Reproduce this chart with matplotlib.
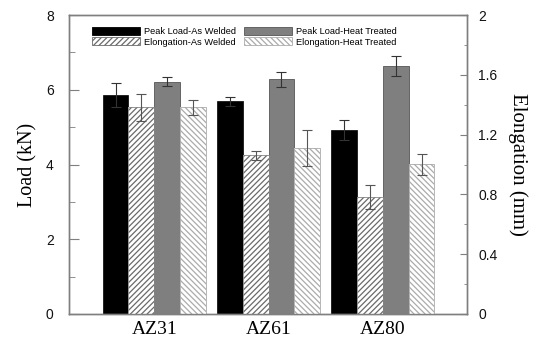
import matplotlib
matplotlib.use("Agg")
import matplotlib.pyplot as plt
from matplotlib.ticker import MultipleLocator
import numpy as np

plt.rcParams['hatch.linewidth'] = 0.9

alloys = ["AZ31", "AZ61", "AZ80"]
load_aw = [5.87, 5.70, 4.92]
load_aw_err = [0.32, 0.12, 0.27]
load_ht = [6.21, 6.28, 6.64]
load_ht_err = [0.12, 0.21, 0.27]
elong_aw = [1.383, 1.061, 0.780]
elong_aw_err = [0.09, 0.03, 0.08]
elong_ht = [1.383, 1.112, 1.001]
elong_ht_err = [0.05, 0.12, 0.07]
legend_labels = ["Peak Load-As Welded", "Elongation-As Welded",
                 "Peak Load-Heat Treated", "Elongation-Heat Treated"]

fig = plt.figure(figsize=(5.43, 3.42), dpi=100)
ax = fig.add_axes([0.127, 0.0819, 0.733, 0.874])
ax2 = ax.twinx()

x = np.arange(len(alloys))
w = 0.226
spine_c = "#7f7f7f"
err_kw = dict(ecolor="#333333", capsize=3.5, elinewidth=0.8, capthick=0.8)
err_kw2 = dict(ecolor="#555555", capsize=3.5, elinewidth=0.8, capthick=0.8)

b1 = ax.bar(x - 1.5 * w, load_aw, w, yerr=load_aw_err, color="black",
            edgecolor="black", linewidth=0.5, error_kw=err_kw)
b3 = ax.bar(x + 0.5 * w, load_ht, w, yerr=load_ht_err, color="#7f7f7f",
            edgecolor="#555555", linewidth=0.6, error_kw=err_kw)
b2 = ax2.bar(x - 0.5 * w, elong_aw, w, color="white",
             edgecolor="#6a6a6a", hatch="//////", linewidth=0.0)
b4 = ax2.bar(x + 1.5 * w, elong_ht, w, color="white",
             edgecolor="#ababab", hatch="\\\\\\\\\\\\", linewidth=0.0)
ax2.bar(x - 0.5 * w, elong_aw, w, fill=False, edgecolor="#888888",
        linewidth=0.6, yerr=elong_aw_err, error_kw=err_kw2)
ax2.bar(x + 1.5 * w, elong_ht, w, fill=False, edgecolor="#aaaaaa",
        linewidth=0.6, yerr=elong_ht_err, error_kw=err_kw2)

ax.set_xlim(-0.747, 2.737)
ax.set_ylim(0, 8)
ax2.set_ylim(0, 2)

ax.set_xticks(x)
ax.set_xticklabels(alloys, family="Liberation Serif", fontsize=14)
ax.tick_params(axis="x", length=0, pad=5)

ax.yaxis.set_major_locator(MultipleLocator(2))
ax.yaxis.set_minor_locator(MultipleLocator(1))
ax2.set_yticks(np.arange(0, 2.01, 0.4))
ax2.set_yticklabels(["0", "0.4", "0.8", "1.2", "1.6", "2"])
ax2.yaxis.set_minor_locator(MultipleLocator(0.2))

for a in (ax, ax2):
    for s in a.spines.values():
        s.set_color(spine_c)
        s.set_linewidth(1.0)

ax.tick_params(axis="y", which="major", direction="in", length=7, color=spine_c,
               labelsize=10, labelcolor="#111111", pad=11)
ax.tick_params(axis="y", which="minor", direction="in", length=4.5, color=spine_c)
ax2.tick_params(axis="y", which="major", direction="in", length=5, color=spine_c,
                labelsize=10, labelcolor="#111111", pad=8)
ax2.tick_params(axis="y", which="minor", direction="in", length=2.5, color=spine_c)
for lab in ax.get_yticklabels() + ax2.get_yticklabels():
    lab.set_family("Liberation Sans")

ax.set_ylabel("Load (kN)", family="Liberation Serif", fontsize=14.5, labelpad=6)
ax2.set_ylabel("Elongation (mm)", family="Liberation Serif", fontsize=15,
               rotation=270, labelpad=22)

leg = ax2.legend([b1, b2, b3, b4], legend_labels, ncol=2, loc="upper left",
                 bbox_to_anchor=(0.04, 0.985), frameon=False,
                 prop=dict(family="Liberation Sans", size=6.7),
                 handlelength=5.1, handleheight=0.9, handletextpad=0.45,
                 columnspacing=0.9, labelspacing=0.15, borderpad=0.3)
for p in leg.get_patches():
    p.set_linewidth(0.6)

fig.savefig("out.png", dpi=100)
